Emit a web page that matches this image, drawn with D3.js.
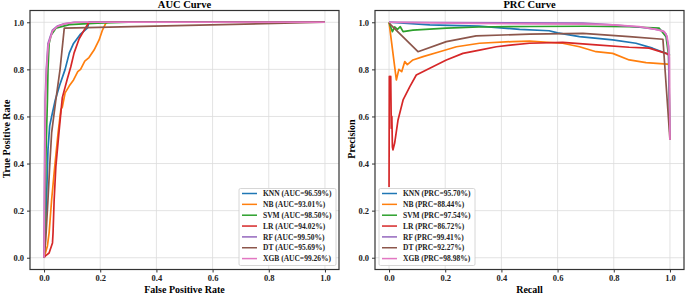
<!DOCTYPE html>
<html>
<head>
<meta charset="utf-8">
<script src="https://cdn.jsdelivr.net/npm/d3@7"></script>
<style>
  body { margin: 0; background: #fff; }
  svg { font-family: "Liberation Serif", "Times New Roman", serif; font-weight: bold; }
</style>
</head>
<body>
<svg width="685" height="294"></svg>
<script>
const models = ["KNN", "NB", "SVM", "LR", "RF", "DT", "XGB"];
const colors = ["#1f77b4", "#ff7f0e", "#2ca02c", "#d62728", "#9467bd", "#8c564b", "#e377c2"];
const aucScores = ["96.59%", "93.01%", "98.50%", "94.02%", "99.50%", "95.69%", "99.26%"];
const prcScores = ["95.70%", "88.44%", "97.54%", "86.72%", "99.41%", "92.27%", "98.98%"];
const ticks = [0, 0.2, 0.4, 0.6, 0.8, 1.0];

// ROC curves: [fpr, tpr]
const rocKNN = [[0,0],[0.005,0.12],[0.009,0.25],[0.014,0.46],[0.02,0.56],[0.027,0.6],[0.04,0.67],[0.055,0.73],[0.075,0.8],[0.09,0.87],[0.105,0.91],[0.13,0.95],[0.154,0.975],[0.16,1],[1,1]];
const rocNB = [[0,0],[0.012,0.05],[0.018,0.105],[0.027,0.246],[0.038,0.387],[0.05,0.53],[0.06,0.63],[0.065,0.64],[0.075,0.7],[0.09,0.73],[0.105,0.755],[0.12,0.79],[0.13,0.8],[0.145,0.835],[0.16,0.85],[0.178,0.882],[0.196,0.925],[0.208,0.967],[0.22,0.996],[0.225,1],[1,1]];
const rocSVM = [[0,0],[0.004,0.2],[0.007,0.45],[0.012,0.67],[0.014,0.8],[0.018,0.91],[0.025,0.945],[0.042,0.975],[0.09,0.99],[0.19,0.996],[0.3,1],[1,1]];
const rocLR = [[0,0],[0.005,0.008],[0.018,0.02],[0.03,0.063],[0.032,0.105],[0.036,0.246],[0.042,0.387],[0.053,0.53],[0.065,0.68],[0.083,0.76],[0.095,0.81],[0.107,0.87],[0.125,0.93],[0.142,0.965],[0.16,1],[1,1]];
const rocRF = [[0,0],[0.002,0.4],[0.004,0.67],[0.008,0.8],[0.014,0.91],[0.03,0.967],[0.047,0.984],[0.071,0.993],[0.107,1],[1,1]];
const rocDT = [[0,0],[0.006,0.076],[0.014,0.246],[0.02,0.387],[0.027,0.53],[0.042,0.67],[0.057,0.8],[0.072,0.975],[1,1]];
const rocXGB = [[0,0],[0.003,0.4],[0.005,0.67],[0.009,0.8],[0.015,0.905],[0.03,0.962],[0.047,0.982],[0.071,0.993],[0.11,1],[1,1]];

// PR curves: [recall, precision]
const prKNN = [[0,1],[0.145,0.989],[0.32,0.984],[0.465,0.97],[0.57,0.964],[0.6,0.955],[0.678,0.939],[0.796,0.925],[0.879,0.911],[0.938,0.89],[0.986,0.868],[1,0.86]];
const prNB = [[0,1],[0.026,0.755],[0.035,0.8],[0.045,0.79],[0.056,0.833],[0.065,0.82],[0.085,0.84],[0.121,0.854],[0.18,0.875],[0.24,0.896],[0.322,0.911],[0.44,0.918],[0.5,0.92],[0.618,0.911],[0.678,0.896],[0.737,0.875],[0.796,0.868],[0.855,0.84],[0.915,0.829],[0.99,0.822],[1,0.82]];
const prSVM = [[0,1],[0.012,0.96],[0.02,0.98],[0.03,0.97],[0.04,0.981],[0.05,0.96],[0.085,0.967],[0.204,0.975],[0.32,0.98],[0.5,0.982],[0.7,0.983],[0.855,0.981],[0.962,0.975],[0.986,0.939],[0.995,0.86],[1,0.5]];
const prLR = [[0,0.3],[0.001,0.77],[0.004,0.7],[0.006,0.77],[0.008,0.55],[0.01,0.6],[0.012,0.47],[0.014,0.458],[0.02,0.487],[0.032,0.585],[0.05,0.67],[0.074,0.727],[0.097,0.776],[0.145,0.805],[0.204,0.84],[0.263,0.868],[0.322,0.882],[0.382,0.896],[0.44,0.904],[0.5,0.911],[0.618,0.915],[0.737,0.904],[0.855,0.894],[0.926,0.89],[0.986,0.868],[1,0.858]];
const prRF = [[0,1],[0.69,0.996],[0.796,0.989],[0.89,0.98],[0.95,0.97],[0.974,0.964],[0.986,0.95],[0.995,0.9],[1,0.5]];
const prDT = [[0,0.996],[0.103,0.875],[0.204,0.918],[0.31,0.942],[0.5,0.95],[0.69,0.953],[0.855,0.939],[0.975,0.928],[1,0.5]];
const prXGB = [[0,1],[0.3,0.995],[0.5,0.993],[0.7,0.992],[0.796,0.989],[0.89,0.982],[0.95,0.97],[0.98,0.96],[0.99,0.94],[0.998,0.85],[1,0.5]];

const rocData = [rocKNN, rocNB, rocSVM, rocLR, rocRF, rocDT, rocXGB];
const prData = [prKNN, prNB, prSVM, prLR, prRF, prDT, prXGB];

const svg = d3.select("svg");

function panel(opt) {
  const x = d3.scaleLinear().domain([-0.05, 1.05]).range([opt.left, opt.right]);
  const y = d3.scaleLinear().domain([-0.05, 1.05]).range([269.5, 10.5]);
  const g = svg.append("g");

  // 그리드
  g.append("g").selectAll("line").data(ticks).join("line")
    .attr("x1", d => x(d)).attr("x2", d => x(d))
    .attr("y1", y.range()[0]).attr("y2", y.range()[1])
    .attr("stroke", "#dcdcdc").attr("stroke-width", 0.8);
  g.append("g").selectAll("line").data(ticks).join("line")
    .attr("y1", d => y(d)).attr("y2", d => y(d))
    .attr("x1", opt.left).attr("x2", opt.right)
    .attr("stroke", "#dcdcdc").attr("stroke-width", 0.8);

  const clipId = "clip-" + opt.id;
  svg.append("clipPath").attr("id", clipId).append("rect")
    .attr("x", opt.left).attr("y", 10.5)
    .attr("width", opt.right - opt.left).attr("height", 259);

  const line = d3.line().x(d => x(d[0])).y(d => y(d[1]));
  g.append("g").attr("clip-path", `url(#${clipId})`)
    .selectAll("path").data(opt.data).join("path")
    .attr("d", line)
    .attr("fill", "none")
    .attr("stroke", (_, i) => colors[i])
    .attr("stroke-width", 1.7)
    .attr("stroke-linejoin", "round");

  // 축
  const xAxis = g.append("g").attr("transform", `translate(0,${y.range()[0]})`)
    .call(d3.axisBottom(x).tickValues(ticks).tickFormat(d3.format(".1f")).tickSize(3).tickPadding(2));
  const yAxis = g.append("g").attr("transform", `translate(${opt.left},0)`)
    .call(d3.axisLeft(y).tickValues(ticks).tickFormat(d3.format(".1f")).tickSize(3).tickPadding(3));
  [xAxis, yAxis].forEach(a => {
    a.select(".domain").remove();
    a.selectAll(".tick line").attr("stroke", "#333");
    a.selectAll("text").attr("fill", "#222").style("font-size", "8.5px")
      .style("font-family", "Liberation Serif, serif").style("font-weight", "bold");
  });

  g.append("rect")
    .attr("x", opt.left).attr("y", 10.5)
    .attr("width", opt.right - opt.left).attr("height", 259)
    .attr("fill", "none").attr("stroke", "#333").attr("stroke-width", 1.2);

  const cx = (opt.left + opt.right) / 2;
  g.append("text").attr("x", cx).attr("y", 8).attr("text-anchor", "middle")
    .style("font-size", "10.5px").text(opt.title);
  g.append("text").attr("x", cx).attr("y", 292.5).attr("text-anchor", "middle")
    .style("font-size", "10px").text(opt.xLabel);
  g.append("text").attr("transform", `translate(${opt.yLabelX},139) rotate(-90)`)
    .attr("text-anchor", "middle").style("font-size", "10px").text(opt.yLabel);

  // 범례
  const lg = g.append("g");
  lg.append("rect")
    .attr("x", opt.legend.x).attr("y", opt.legend.y)
    .attr("width", opt.legend.w).attr("height", 77)
    .attr("fill", "#fff").attr("fill-opacity", 0.85)
    .attr("stroke", "#ccc").attr("stroke-width", 0.8).attr("rx", 1.5);
  const items = lg.selectAll("g.item").data(models).join("g")
    .attr("transform", (_, i) => `translate(${opt.legend.x},${opt.legend.y + 5 + i * 10.85})`);
  items.append("line").attr("x1", 3).attr("x2", 18).attr("y1", 0).attr("y2", 0)
    .attr("stroke", (_, i) => colors[i]).attr("stroke-width", 1.5);
  items.append("text").attr("x", 24).attr("y", 2.7)
    .style("font-size", "7.5px").attr("fill", "#222")
    .text((d, i) => `${d} (${opt.scoreName}=${opt.scores[i]})`);
}

panel({
  id: "roc", left: 30, right: 339, data: rocData,
  title: "AUC Curve", xLabel: "False Positive Rate", yLabel: "True Positive Rate", yLabelX: 9.5,
  scoreName: "AUC", scores: aucScores, legend: { x: 239, y: 188.5, w: 97 }
});
panel({
  id: "prc", left: 375, right: 684, data: prData,
  title: "PRC Curve", xLabel: "Recall", yLabel: "Precision", yLabelX: 354.5,
  scoreName: "PRC", scores: prcScores, legend: { x: 379, y: 188.5, w: 96 }
});
</script>
</body>
</html>
